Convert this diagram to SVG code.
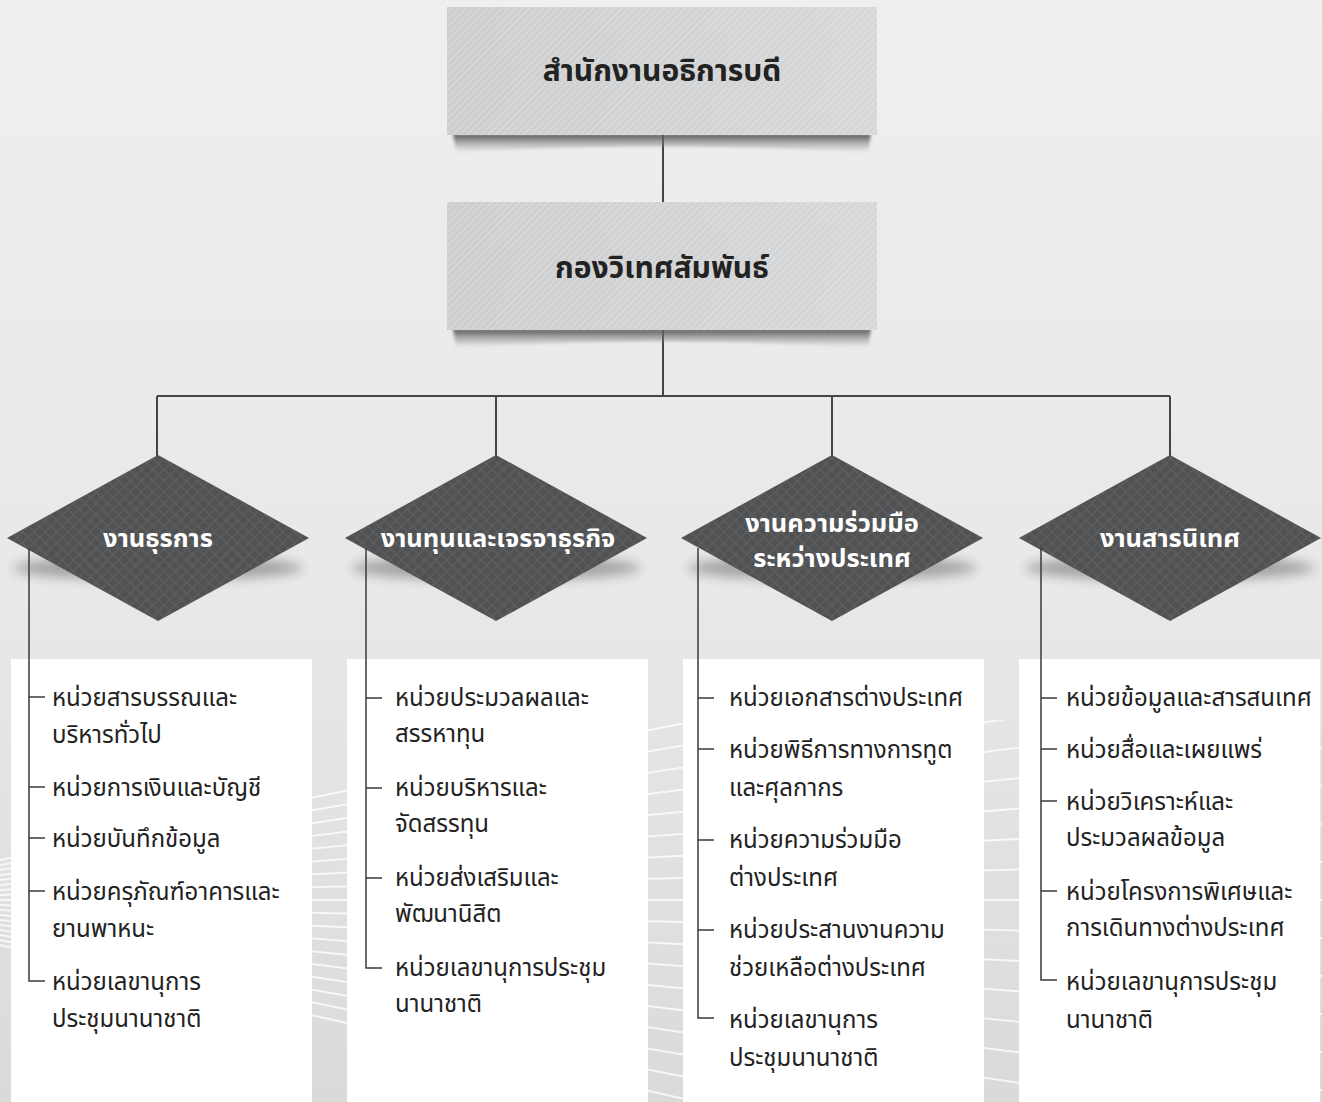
<svg xmlns="http://www.w3.org/2000/svg" width="1322" height="1102" viewBox="0 0 1322 1102">
<style>
.ttl{font-family:"Noto Sans Thai","Noto Sans","DejaVu Sans",sans-serif;font-weight:700;font-size:30px;fill:#222;text-anchor:middle}
.dl{font-family:"Noto Sans Thai","Noto Sans","DejaVu Sans",sans-serif;font-weight:700;font-size:25.5px;fill:#fff;text-anchor:middle}
.it{font-family:"Noto Sans Thai","Noto Sans","DejaVu Sans",sans-serif;font-size:24px;fill:#222}
.ln{stroke:#454545;stroke-width:2;fill:none}
.sl{stroke:#3a3a3a;stroke-width:1.5;fill:none}
.card{fill:#fff}
.deco{stroke:#fff;stroke-width:2;fill:none;opacity:.75}
</style>
<defs>
<linearGradient id="bg" x1="0" y1="0" x2="0" y2="1">
<stop offset="0" stop-color="#efefef"/>
<stop offset=".55" stop-color="#e8e8e8"/>
<stop offset="1" stop-color="#dadada"/>
</linearGradient>
<linearGradient id="boxg" x1="0" y1="0" x2="1" y2="0">
<stop offset="0" stop-color="#cdcecf"/>
<stop offset="1" stop-color="#d6d7d8"/>
</linearGradient>
<pattern id="stripes" width="5" height="5" patternUnits="userSpaceOnUse" patternTransform="rotate(45)">
<line x1="0" y1="0" x2="0" y2="5" stroke="#ffffff" stroke-width="1.2" opacity=".45"/>
</pattern>
<pattern id="hatch" width="8" height="8" patternUnits="userSpaceOnUse" patternTransform="rotate(45)">
<rect x="0" y="0" width="8" height="8" fill="none" stroke="#6a6b6d" stroke-width="1.2" opacity=".5"/>
</pattern>
<linearGradient id="shd" x1="0" y1="0" x2="0" y2="1">
<stop offset="0" stop-color="#555"/>
<stop offset="1" stop-color="#999" stop-opacity="0"/>
</linearGradient>
<filter id="blur" x="-20%" y="-50%" width="140%" height="200%"><feGaussianBlur stdDeviation="6"/></filter>
<filter id="blur2" x="-10%" y="-50%" width="120%" height="200%"><feGaussianBlur stdDeviation="1.5"/></filter>
<clipPath id="lowclip"><rect x="0" y="720" width="1322" height="382"/></clipPath>
</defs>

<rect width="1322" height="1102" fill="url(#bg)"/>
<g id="decor" clip-path="url(#lowclip)">
<path class="deco" d="M-200,900 L1400,700"/>
<path class="deco" d="M-200,900 L1400,740"/>
<path class="deco" d="M-200,900 L1400,780"/>
<path class="deco" d="M-200,900 L1400,820"/>
<path class="deco" d="M-200,900 L1400,860"/>
<path class="deco" d="M-200,900 L1400,900"/>
<path class="deco" d="M-200,900 L1400,940"/>
<path class="deco" d="M-200,900 L1400,980"/>
<path class="deco" d="M-200,900 L1400,1020"/>
<path class="deco" d="M-200,900 L1400,1060"/>
<path class="deco" d="M-200,900 L1400,1100"/>
<path class="deco" d="M-200,900 L1400,1140"/>
<path class="deco" d="M-200,900 L1400,1180"/>
<path class="deco" d="M-200,900 L1400,1220"/>
<path class="deco" d="M-200,900 L1400,1260"/>
<path class="deco" d="M-200,900 L1400,660"/>
<path class="deco" d="M-200,900 L1400,620"/>
<path class="deco" d="M-200,900 L1400,580"/>
</g>

<g id="connectors">
<path class="ln" d="M663,135 V202"/>
<path class="ln" d="M663,330 V396"/>
<path class="ln" d="M157,396 H1170" stroke-width="3"/>
<path class="ln" d="M157,396 V456 M496,396 V456 M832,396 V456 M1170,396 V456"/>
</g>

<g id="node-top">
<path d="M453,134 H871 L868,153 Q662,140 456,153 Z" fill="url(#shd)" filter="url(#blur2)"/>
<rect x="447" y="7" width="430" height="128" fill="url(#boxg)"/>
<rect x="447" y="7" width="430" height="128" fill="url(#stripes)"/>
<text class="ttl" x="662" y="81">สำนักงานอธิการบดี</text>
</g>

<g id="node-div">
<path d="M453,329 H871 L868,348 Q662,335 456,348 Z" fill="url(#shd)" filter="url(#blur2)"/>
<rect x="447" y="202" width="430" height="128" fill="url(#boxg)"/>
<rect x="447" y="202" width="430" height="128" fill="url(#stripes)"/>
<text class="ttl" x="662" y="278">กองวิเทศสัมพันธ์</text>
</g>

<g id="node-d1">
<ellipse cx="158" cy="568" rx="145" ry="12" fill="#000" opacity=".3" filter="url(#blur)"/>
<polygon points="158,455 309,538 158,621 7,538" fill="#505153"/>
<polygon points="158,455 309,538 158,621 7,538" fill="url(#hatch)"/>
<text class="dl" x="158" y="547">งานธุรการ</text>
</g>
<g id="node-d2">
<ellipse cx="496" cy="568" rx="145" ry="12" fill="#000" opacity=".3" filter="url(#blur)"/>
<polygon points="496,455 647,538 496,621 345,538" fill="#505153"/>
<polygon points="496,455 647,538 496,621 345,538" fill="url(#hatch)"/>
<text class="dl" x="498" y="547">งานทุนและเจรจาธุรกิจ</text>
</g>
<g id="node-d3">
<ellipse cx="832" cy="568" rx="145" ry="12" fill="#000" opacity=".3" filter="url(#blur)"/>
<polygon points="832,455 983,538 832,621 681,538" fill="#505153"/>
<polygon points="832,455 983,538 832,621 681,538" fill="url(#hatch)"/>
<text class="dl" x="832" y="532">งานความร่วมมือ</text>
<text class="dl" x="832" y="567">ระหว่างประเทศ</text>
</g>
<g id="node-d4">
<ellipse cx="1170" cy="568" rx="145" ry="12" fill="#000" opacity=".3" filter="url(#blur)"/>
<polygon points="1170,455 1321,538 1170,621 1019,538" fill="#505153"/>
<polygon points="1170,455 1321,538 1170,621 1019,538" fill="url(#hatch)"/>
<text class="dl" x="1170" y="547">งานสารนิเทศ</text>
</g>

<g id="node-list1">
<rect class="card" x="11" y="659" width="301" height="443"/>
<path class="sl" d="M29,548 V981 H45 M29,697 H45 M29,787 H45 M29,838 H45 M29,891 H45"/>
<text class="it" x="52" y="706">หน่วยสารบรรณและ</text>
<text class="it" x="52" y="743">บริหารทั่วไป</text>
<text class="it" x="52" y="796">หน่วยการเงินและบัญชี</text>
<text class="it" x="52" y="847">หน่วยบันทึกข้อมูล</text>
<text class="it" x="52" y="900">หน่วยครุภัณฑ์อาคารและ</text>
<text class="it" x="52" y="937">ยานพาหนะ</text>
<text class="it" x="52" y="990">หน่วยเลขานุการ</text>
<text class="it" x="52" y="1027">ประชุมนานาชาติ</text>
</g>

<g id="node-list2">
<rect class="card" x="347" y="659" width="301" height="443"/>
<path class="sl" d="M366,548 V968 H382 M366,698 H382 M366,788 H382 M366,878 H382"/>
<text class="it" x="395" y="706">หน่วยประมวลผลและ</text>
<text class="it" x="395" y="742">สรรหาทุน</text>
<text class="it" x="395" y="796">หน่วยบริหารและ</text>
<text class="it" x="395" y="832">จัดสรรทุน</text>
<text class="it" x="395" y="886">หน่วยส่งเสริมและ</text>
<text class="it" x="395" y="922">พัฒนานิสิต</text>
<text class="it" x="395" y="976">หน่วยเลขานุการประชุม</text>
<text class="it" x="395" y="1012">นานาชาติ</text>
</g>

<g id="node-list3">
<rect class="card" x="683" y="659" width="301" height="443"/>
<path class="sl" d="M698,548 V1018 H714 M698,698 H714 M698,749 H714 M698,840 H714 M698,930 H714"/>
<text class="it" x="729" y="706">หน่วยเอกสารต่างประเทศ</text>
<text class="it" x="729" y="758">หน่วยพิธีการทางการทูต</text>
<text class="it" x="729" y="796">และศุลกากร</text>
<text class="it" x="729" y="848">หน่วยความร่วมมือ</text>
<text class="it" x="729" y="886">ต่างประเทศ</text>
<text class="it" x="729" y="938">หน่วยประสานงานความ</text>
<text class="it" x="729" y="976">ช่วยเหลือต่างประเทศ</text>
<text class="it" x="729" y="1028">หน่วยเลขานุการ</text>
<text class="it" x="729" y="1066">ประชุมนานาชาติ</text>
</g>

<g id="node-list4">
<rect class="card" x="1019" y="659" width="301" height="443"/>
<path class="sl" d="M1041,548 V980 H1057 M1041,698 H1057 M1041,749 H1057 M1041,801 H1057 M1041,891 H1057"/>
<text class="it" x="1066" y="706">หน่วยข้อมูลและสารสนเทศ</text>
<text class="it" x="1066" y="758">หน่วยสื่อและเผยแพร่</text>
<text class="it" x="1066" y="810">หน่วยวิเคราะห์และ</text>
<text class="it" x="1066" y="846">ประมวลผลข้อมูล</text>
<text class="it" x="1066" y="900">หน่วยโครงการพิเศษและ</text>
<text class="it" x="1066" y="936">การเดินทางต่างประเทศ</text>
<text class="it" x="1066" y="990">หน่วยเลขานุการประชุม</text>
<text class="it" x="1066" y="1028">นานาชาติ</text>
</g>
</svg>
